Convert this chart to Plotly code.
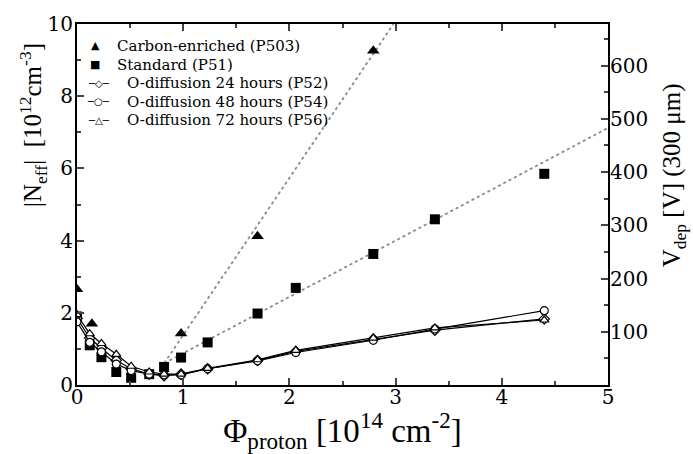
import plotly.graph_objects as go

# Fluence values [1e14 cm^-2]
phi = [0, 0.12, 0.23, 0.37, 0.51, 0.68, 0.82, 0.98, 1.23, 1.70, 2.06, 2.79, 3.37, 4.40]

# Carbon-enriched (P503)
carbon_x = [0, 0.14, 0.98, 1.70, 2.79]
carbon_y = [2.65, 1.70, 1.43, 4.12, 9.26]
carbon_fit_x = [0.82, 2.98]
carbon_fit_y = [0.6, 10.0]

# Standard (P51)
std_y = [1.90, 1.10, 0.77, 0.36, 0.20, 0.30, 0.50, 0.76, 1.18, 1.98, 2.69, 3.63, 4.59, 5.85]
std_fit_x = [0.82, 5.0]
std_fit_y = [0.6, 7.12]

# O-diffusion series
o24_y = [1.85, 1.30, 1.02, 0.68, 0.45, 0.30, 0.26, 0.30, 0.45, 0.68, 0.93, 1.27, 1.52, 1.83]
o48_y = [1.75, 1.18, 0.92, 0.58, 0.40, 0.30, 0.28, 0.28, 0.45, 0.67, 0.90, 1.24, 1.55, 2.06]
o72_y = [1.95, 1.42, 1.15, 0.85, 0.52, 0.36, 0.30, 0.30, 0.46, 0.70, 0.96, 1.30, 1.58, 1.80]

series_names = ["Carbon-enriched (P503)", "Standard (P51)", "O-diffusion 24 hours (P52)",
                "O-diffusion 48 hours (P54)", "O-diffusion 72 hours (P56)"]
legend_keys = ["▲", "■", "─◇─", "─○─", "─△─"]

v_ticks = [100, 200, 300, 400, 500, 600]
v_range = [0, 678]
SERIF = "Liberation Serif, Times New Roman, serif"
WIDE = "DejaVu Serif, serif"

fig = go.Figure()

dot = dict(color="#8a8a8a", width=1.8, dash="dot")
fig.add_trace(go.Scatter(x=carbon_fit_x, y=carbon_fit_y, mode="lines", line=dot, showlegend=False))
fig.add_trace(go.Scatter(x=std_fit_x, y=std_fit_y, mode="lines", line=dot, showlegend=False))

fig.add_trace(go.Scatter(x=carbon_x, y=carbon_y, mode="markers", name=series_names[0], showlegend=False,
                         marker=dict(symbol="triangle-up", size=11, color="black")))
fig.add_trace(go.Scatter(x=phi, y=std_y, mode="markers", name=series_names[1], showlegend=False,
                         marker=dict(symbol="square", size=10, color="black")))

open_m = dict(color="white", size=8, line=dict(color="black", width=1.2))
for ys, sym, nm in [(o24_y, "diamond", series_names[2]), (o48_y, "circle", series_names[3]),
                    (o72_y, "triangle-up", series_names[4])]:
    fig.add_trace(go.Scatter(x=phi, y=ys, mode="lines+markers", name=nm, showlegend=False,
                             line=dict(color="black", width=1.2),
                             marker=dict(symbol=sym, **open_m)))

# invisible trace for the right axis
fig.add_trace(go.Scatter(x=[None], y=[None], yaxis="y2", showlegend=False, hoverinfo="skip"))

# hand-made legend (layout positions in paper coordinates)
row_y = [0.9396, 0.8874, 0.8352, 0.7843, 0.7335]
key_x = [0.0339, 0.0339, 0.0414, 0.0414, 0.0414]
text_x = [0.0716, 0.0716, 0.0904, 0.0904, 0.0904]
key_size = [11, 11, 10, 10, 10]
annotations = []
for i in range(5):
    annotations.append(dict(xref="paper", yref="paper", x=key_x[i], y=row_y[i], text=legend_keys[i],
                            showarrow=False, xanchor="center", yanchor="middle",
                            font=dict(family="DejaVu Sans, sans-serif", size=key_size[i], color="black")))
    annotations.append(dict(xref="paper", yref="paper", x=text_x[i], y=row_y[i], text=series_names[i],
                            showarrow=False, xanchor="left", yanchor="middle",
                            font=dict(family=WIDE, size=15, color="black")))

# axis titles for the y axes
annotations.append(dict(xref="paper", yref="paper", x=-0.083, y=0.72, textangle=-90,
                        text="|N<sub>eff</sub>|  [10<sup>12</sup>cm<sup>-3</sup>]", showarrow=False,
                        xanchor="center", yanchor="middle", font=dict(family=SERIF, size=25, color="black")))
annotations.append(dict(xref="paper", yref="paper", x=1.125, y=0.582, textangle=-90,
                        text="V<sub>dep</sub> [V] (300 μm)", showarrow=False,
                        xanchor="center", yanchor="middle", font=dict(family=SERIF, size=25, color="black")))

fig.update_layout(
    width=693, height=454,
    margin=dict(l=77, r=85, t=21, b=69),
    paper_bgcolor="white", plot_bgcolor="white",
    font=dict(family=SERIF, color="black", size=20),
    xaxis=dict(range=[0, 5], dtick=1, showline=True, linecolor="black", linewidth=2,
               mirror="ticks", ticks="inside", ticklen=7, tickwidth=1.5, showgrid=False, zeroline=False,
               minor=dict(dtick=0.5, ticks="inside", ticklen=4, showgrid=False),
               tickfont=dict(size=20, family=WIDE), ticklabelstandoff=-7,
               title=dict(text="Φ<sub>proton</sub> [10<sup>14</sup> cm<sup>-2</sup>]", font=dict(size=33), standoff=1)),
    yaxis=dict(range=[0, 10], dtick=2, showline=True, linecolor="black", linewidth=2,
               ticks="inside", ticklen=7, tickwidth=1.5, showgrid=False, zeroline=False,
               minor=dict(dtick=1, ticks="inside", ticklen=4, showgrid=False),
               tickfont=dict(size=20, family=WIDE), ticklabelstandoff=-2),
    yaxis2=dict(range=v_range, overlaying="y", side="right", tickvals=v_ticks,
                showline=True, linecolor="black", linewidth=2, ticks="inside", ticklen=7, tickwidth=1.5,
                showgrid=False, zeroline=False, ticklabelstandoff=-4,
                minor=dict(tickvals=[50, 150, 250, 350, 450, 550, 650], ticks="inside", ticklen=4, showgrid=False),
                tickfont=dict(size=20, family=WIDE)),
    annotations=annotations,
    showlegend=False,
)

fig.write_html("out.html")
